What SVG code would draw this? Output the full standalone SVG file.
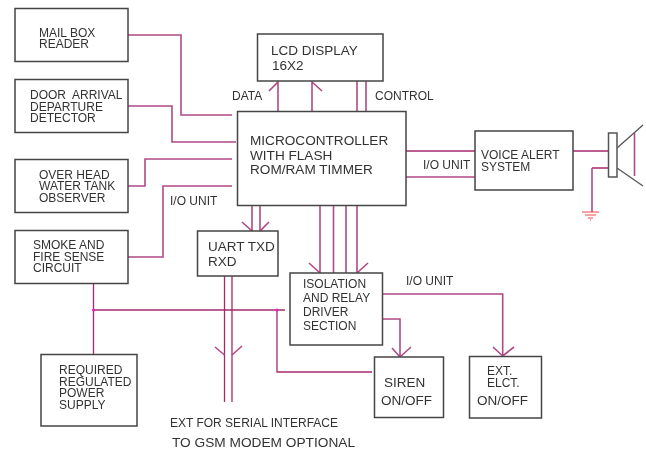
<svg xmlns="http://www.w3.org/2000/svg" width="646" height="450" viewBox="0 0 646 450">
<style>
text{font-family:"Liberation Sans",Arial,sans-serif;fill:#333;font-size:12px;white-space:pre}
.m{font-size:13.600px}.l{font-size:13.500px}.t{font-size:13.700px}
.b{fill:#fff;stroke:#444;stroke-width:1.500}
.c{fill:none;stroke:#b04a85;stroke-width:1.600}
.d{fill:none;stroke:#a8286f;stroke-width:1.300}
.k{fill:none;stroke:#555;stroke-width:1.300}
.g{fill:none;stroke:#f04848;stroke-width:1.200}
</style>
<defs><filter id="s" x="-2%" y="-2%" width="104%" height="104%"><feGaussianBlur stdDeviation="0.3"/></filter></defs>
<rect width="646" height="450" fill="#fff"/>
<g filter="url(#s)">
<g id="connectors">
<path class="c" d="M128 35H181V115H232M128 106H172V142H236M128 186H145V159H232M128 257H163V186H232"/>
<path class="c" d="M278 111V82L269 91M312 111V82L322 91M357 81V111M366 81V111"/>
<path class="d" d="M406 151H477M573 151H608M608 168H592"/>
<path class="c" d="M406 177H477M592 168V212"/>
<path class="g" d="M582 212H599M585 215H596M588 218H593M590 220H591"/>
<path class="k" d="M617 148L643 125M617 168L643 186"/>
<path class="c" d="M634.500 133V176"/>
<path class="c" d="M252 205V231L242 222M260 205V231L269 222"/>
<path class="c" d="M320 205V273L309 263M333.500 205V273M346 205V273M357 205V273L368 263"/>
<path class="d" d="M224.500 276V402M232 276V402"/>
<path class="c" d="M224.500 355L215 347M232 355L242 346"/>
<path class="d" d="M93.500 283V354M93.500 310H285M277 310V372H372"/>
<circle cx="93.500" cy="310" r="1.500" fill="#e020c0"/>
<circle cx="277" cy="310" r="1.500" fill="#e020c0"/>
<path class="c" d="M382 294H502.700V356L493 347M502.700 356L514 347M382 319H400V357L392 348M400 357L411 347"/>
</g>
<g id="mailbox"><rect class="b" x="15" y="8.500" width="113" height="53"/><text x="39" y="36.500">MAIL BOX</text><text x="39" y="47.800">READER</text></g>
<g id="door"><rect class="b" x="15" y="79.500" width="113" height="53"/><text x="30" y="99">DOOR  ARRIVAL</text><text x="30" y="110.500">DEPARTURE</text><text x="30" y="122">DETECTOR</text></g>
<g id="tank"><rect class="b" x="15" y="159.500" width="113" height="53"/><text x="39" y="178.500">OVER HEAD</text><text x="39" y="190">WATER TANK</text><text x="39" y="201.500">OBSERVER</text></g>
<g id="smoke"><rect class="b" x="15" y="230.500" width="113" height="53"/><text x="33" y="249">SMOKE AND</text><text x="33" y="260.500">FIRE SENSE</text><text x="33" y="272">CIRCUIT</text></g>
<g id="power"><rect class="b" x="41" y="354.500" width="96" height="71.500"/><text x="59" y="374">REQUIRED</text><text x="59" y="385.500">REGULATED</text><text x="59" y="397">POWER</text><text x="59" y="408.500">SUPPLY</text></g>
<g id="lcd"><rect class="b" x="257.500" y="34" width="125.500" height="47"/><text class="l" x="271" y="55">LCD DISPLAY</text><text class="l" x="272" y="69.500">16X2</text></g>
<g id="mcu"><rect class="b" x="237.500" y="111.500" width="168.500" height="94"/><text class="m" x="250" y="145">MICROCONTROLLER</text><text class="m" x="250" y="159.500">WITH FLASH</text><text class="m" x="250" y="173.500">ROM/RAM TIMMER</text></g>
<g id="voice"><rect class="b" x="475" y="131" width="98" height="59"/><text x="481" y="159">VOICE ALERT</text><text x="481" y="170.500">SYSTEM</text></g>
<g id="speaker"><rect fill="#fff" stroke="#555" stroke-width="1.500" x="608.500" y="133" width="8.500" height="44"/></g>
<g id="uart"><rect class="b" x="197.500" y="231" width="80.500" height="45"/><text class="l" x="208" y="251">UART TXD</text><text class="l" x="208" y="265.500">RXD</text></g>
<g id="isolation"><rect class="b" x="290" y="273" width="92.500" height="72"/><text x="303" y="288">ISOLATION</text><text x="303" y="302">AND RELAY</text><text x="303" y="316">DRIVER</text><text x="303" y="330">SECTION</text></g>
<g id="siren"><rect class="b" x="374.500" y="357" width="69" height="60.500"/><text class="l" x="384" y="387">SIREN</text><text class="l" x="381" y="405">ON/OFF</text></g>
<g id="ext"><rect class="b" x="469.500" y="356.500" width="72" height="61.500"/><text x="487" y="375">EXT.</text><text x="487" y="387">ELCT.</text><text class="l" x="477" y="405">ON/OFF</text></g>
<g id="labels">
<text x="232" y="100">DATA</text><text x="375" y="100">CONTROL</text><text x="170" y="205">I/O UNIT</text><text x="423" y="169">I/O UNIT</text><text x="406" y="285">I/O UNIT</text>
<text x="170" y="427">EXT FOR SERIAL INTERFACE</text><text x="172" y="447" class="t">TO GSM MODEM OPTIONAL</text>
</g>
</g>
</svg>
